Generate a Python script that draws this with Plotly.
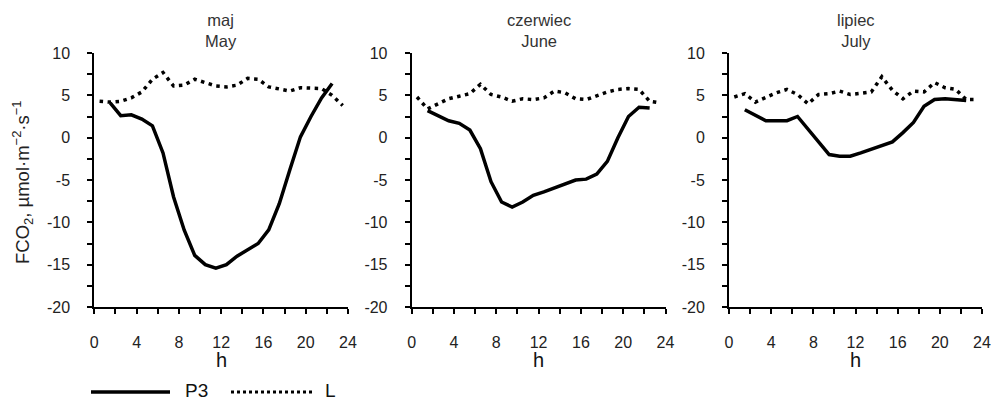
import plotly.graph_objects as go

# ---------------- data ----------------
hours_L = [h + 0.5 for h in range(24)]          # 0.5 .. 23.5
hours_P3 = [h + 0.5 for h in range(1, 23)]      # 1.5 .. 22.5

months_pl = ["maj", "czerwiec", "lipiec"]
months_en = ["May", "June", "July"]

may_P3 = [4.1, 2.6, 2.7, 2.2, 1.4, -1.8, -7.0, -10.9, -13.9, -15.0, -15.4,
          -15.0, -14.0, -13.3, -12.5, -10.9, -7.8, -3.8, 0.1, 2.5, 4.7, 6.4]
may_L = [4.3, 4.2, 4.3, 4.7, 5.4, 6.9, 7.7, 6.1, 6.2, 6.9, 6.5, 6.1,
         6.0, 6.2, 7.0, 6.9, 6.0, 5.7, 5.5, 5.9, 5.9, 5.8, 5.0, 3.8]

june_P3 = [3.2, 2.6, 2.0, 1.7, 0.9, -1.3, -5.2, -7.6, -8.2, -7.6, -6.8,
           -6.4, -5.9, -5.5, -5.0, -4.9, -4.3, -2.8, 0.0, 2.5, 3.6, 3.5]
june_L = [4.8, 3.4, 4.0, 4.6, 4.9, 5.2, 6.3, 5.1, 4.8, 4.3, 4.6, 4.5,
          4.7, 5.5, 5.3, 4.6, 4.5, 5.0, 5.4, 5.7, 5.8, 5.7, 4.3, 4.1]

july_P3 = [3.3, 2.7, 2.0, 2.0, 2.0, 2.5, 1.0, -0.5, -2.0, -2.2, -2.2,
           -1.8, -1.4, -0.9, -0.5, 0.6, 1.8, 3.7, 4.5, 4.6, 4.5, 4.4]
july_L = [4.8, 5.2, 4.2, 4.8, 5.3, 5.7, 5.1, 4.0, 5.1, 5.2, 5.5, 5.1,
          5.3, 5.4, 7.2, 5.6, 4.6, 5.5, 5.4, 6.5, 5.9, 5.7, 4.5, 4.5]

series_P3 = [may_P3, june_P3, july_P3]
series_L = [may_L, june_L, july_L]

x_ticks = [0, 4, 8, 12, 16, 20, 24]
x_ticktext = ["0", "4", "8", "12", "16", "20", "24"]
y_ticks = [-20, -15, -10, -5, 0, 5, 10]
y_ticktext = ["-20", "-15", "-10", "-5", "0", "5", "10"]
legend_names = ["P3", "L"]
y_title = "FCO<sub>2</sub>, µmol·m<sup>−2</sup>·s<sup>−1</sup>"
x_title = "h"

# ---------------- layout geometry (pixels) ----------------
W, H = 991, 401
FONT = "Liberation Sans, Arial, sans-serif"
panel_px = [(94.3, 348.0), (411.7, 665.5), (729.0, 982.0)]
y_top_px, y_bot_px = 53.0, 307.0
ydom = [1 - y_bot_px / H, 1 - y_top_px / H]

fig = go.Figure()
layout = dict(
    width=W, height=H,
    margin=dict(l=0, r=0, t=0, b=0, pad=0, autoexpand=False),
    paper_bgcolor="white", plot_bgcolor="white",
    showlegend=False,
    font=dict(family=FONT, color="#222", size=16),
)

annotations = []
shapes = []

for i in range(3):
    sfx = "" if i == 0 else str(i + 1)
    xa, ya = "x" + sfx, "y" + sfx
    fig.add_trace(go.Scatter(x=hours_P3, y=series_P3[i], mode="lines",
                             name=legend_names[0], xaxis=xa, yaxis=ya,
                             line=dict(color="black", width=3.5)))
    fig.add_trace(go.Scatter(x=hours_L, y=series_L[i], mode="lines",
                             name=legend_names[1], xaxis=xa, yaxis=ya,
                             line=dict(color="black", width=3.5, dash="3.5px,4.5px")))
    x0, x1 = panel_px[i]
    layout["xaxis" + sfx] = dict(
        domain=[x0 / W, x1 / W], anchor=ya, range=[0, 24], automargin=False,
        tickvals=x_ticks, ticktext=x_ticktext, ticks="outside", ticklen=5,
        tickwidth=2, tickcolor="black", showline=True, linewidth=2,
        linecolor="black", showgrid=False, zeroline=False, ticklabelstandoff=15,
        tickfont=dict(size=16, color="#222"),
        minor=dict(dtick=2, tick0=0, ticks="outside", ticklen=5, tickwidth=2,
                   tickcolor="black", showgrid=False),
    )
    layout["yaxis" + sfx] = dict(
        domain=ydom, anchor=xa, range=[-20, 10], automargin=False,
        tickvals=y_ticks, ticktext=y_ticktext, ticks="outside", ticklen=5,
        tickwidth=2, tickcolor="black", showline=True, linewidth=2,
        linecolor="black", showgrid=False, zeroline=False, ticklabelstandoff=14,
        tickfont=dict(size=16, color="#222"),
        minor=dict(dtick=2.5, tick0=0, ticks="outside", ticklen=5, tickwidth=2,
                   tickcolor="black", showgrid=False),
    )
    cx = (x0 + x1) / 2 / W
    annotations.append(dict(
        xref="paper", yref="paper", x=cx, y=1 - 30 / H,
        text=f"{months_pl[i]}<br>{months_en[i]}", showarrow=False,
        font=dict(size=16.5, color="#333", family=FONT),
        xanchor="center", yanchor="middle"))
    annotations.append(dict(
        xref="paper", yref="paper", x=cx, y=1 - 360 / H,
        text=x_title, showarrow=False,
        font=dict(size=20, color="#111", family=FONT),
        xanchor="center", yanchor="middle"))

annotations.append(dict(
    xref="paper", yref="paper", x=23 / W, y=1 - 182 / H,
    text=y_title, showarrow=False, textangle=-90,
    font=dict(size=18.5, color="#222", family=FONT),
    xanchor="center", yanchor="middle"))

# legend (drawn manually to match reference)
ly = 1 - 392 / H
lt = 1 - 390 / H
shapes.append(dict(type="line", xref="paper", yref="paper",
                   x0=91 / W, x1=170 / W, y0=ly, y1=ly,
                   line=dict(color="black", width=3.5)))
shapes.append(dict(type="line", xref="paper", yref="paper",
                   x0=231 / W, x1=312 / W, y0=ly, y1=ly,
                   line=dict(color="black", width=3, dash="3px,3px")))
annotations.append(dict(xref="paper", yref="paper", x=183 / W, y=lt,
                        text=legend_names[0], showarrow=False, xanchor="left",
                        yanchor="middle", font=dict(size=19, color="#111", family=FONT)))
annotations.append(dict(xref="paper", yref="paper", x=323 / W, y=lt,
                        text=legend_names[1], showarrow=False, xanchor="left",
                        yanchor="middle", font=dict(size=19, color="#111", family=FONT)))

layout["annotations"] = annotations
layout["shapes"] = shapes
fig.update_layout(**layout)
fig.write_html("out.html")
